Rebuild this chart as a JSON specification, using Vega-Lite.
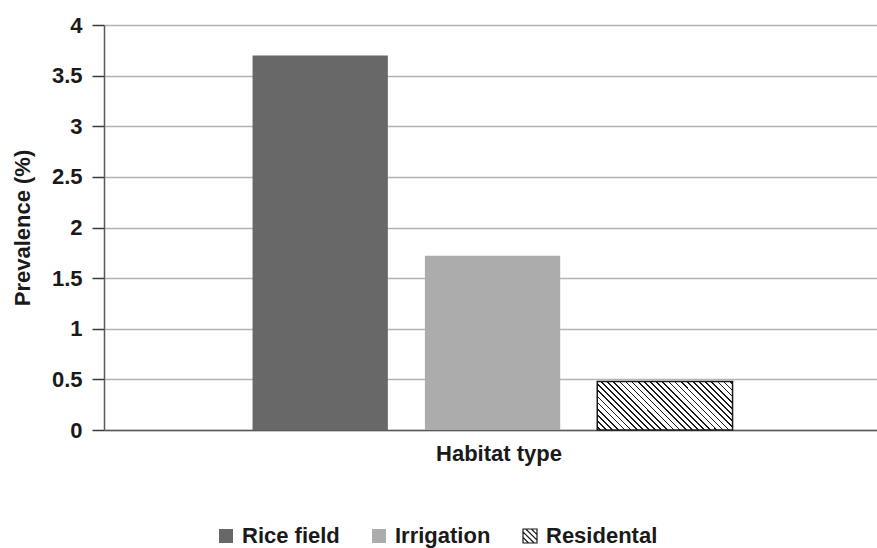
{
  "$schema": "https://vega.github.io/schema/vega-lite/v6.json",
  "width": 773,
  "height": 405,
  "autosize": {"type": "none"},
  "padding": {"left": 104, "top": 25, "right": 0, "bottom": 118},
  "background": "white",
  "config": {"view": {"stroke": null}, "font": "Liberation Sans"},
  "data": {"values": [
    {"habitat": "Rice field", "prevalence": 3.7},
    {"habitat": "Irrigation", "prevalence": 1.72},
    {"habitat": "Residental", "prevalence": 0.48}
  ]},
  "layer": [
    {
      "mark": {"type": "bar"},
      "encoding": {
        "x": {"field": "habitat", "type": "nominal", "sort": null,
          "scale": {"domain": ["Rice field", "Irrigation", "Residental"], "paddingInner": 0.215, "paddingOuter": 0.85, "align": 0.507},
          "axis": {"labels": false, "ticks": false, "grid": false, "domainColor": "#5a5a5a", "domainWidth": 1.5,
            "title": "Habitat type", "titleFont": "Liberation Sans", "titleFontSize": 22, "titleFontWeight": "bold", "titleColor": "#1a1a1a", "titlePadding": 13, "titleX": 394.5}},
        "y": {"field": "prevalence", "type": "quantitative",
          "scale": {"domain": [0, 4]},
          "axis": {"values": [0, 0.5, 1, 1.5, 2, 2.5, 3, 3.5, 4], "format": "~g",
            "tickSize": 12, "tickColor": "#3a3a3a", "tickWidth": 1.5,
            "domainColor": "#5a5a5a", "domainWidth": 1.5,
            "grid": true, "gridColor": "#b3b3b3", "gridWidth": 1.5,
            "labelFont": "Liberation Sans", "labelFontSize": 22, "labelFontWeight": "bold", "labelColor": "#1a1a1a", "labelPadding": 10,
            "title": "Prevalence (%)", "titleFont": "Liberation Sans", "titleFontSize": 22, "titleFontWeight": "bold", "titleColor": "#1a1a1a", "titlePadding": 17}},
        "color": {"field": "habitat", "type": "nominal", "sort": null,
          "scale": {"domain": ["Rice field", "Irrigation", "Residental"], "range": ["#686868", "#acacac", "#ffffff"]},
          "legend": {"orient": "none", "legendX": 111, "legendY": 500, "direction": "horizontal", "title": null,
            "symbolType": "square", "symbolSize": 196, "symbolStrokeWidth": 1.2,
            "labelFont": "Liberation Sans", "labelFontSize": 22, "labelFontWeight": "bold", "labelColor": "#1a1a1a",
            "labelOffset": 5, "columnPadding": 28, "padding": 0,
            "encode": {"symbols": {"update": {
              "shape": [
                {"test": "datum.value === 'Residental'", "value": "M-1,-1H1V1H-1Z M0.2,-1L1,-0.2 M-0.6,-1L1,0.6 M-1,-0.6L0.6,1 M-1,0.2L-0.2,1"},
                {"value": "square"}
              ],
              "stroke": [
                {"test": "datum.value === 'Residental'", "value": "#1a1a1a"},
                {"value": "transparent"}
              ]
            }}}
          }}
      }
    },
    {
      "transform": [{"filter": "datum.habitat === 'Residental'"}],
      "mark": {"type": "bar", "stroke": "#1a1a1a", "strokeWidth": 1.5,
        "fill": {"gradient": "linear", "x1": 0, "y1": 1, "x2": 1.204, "y2": 0.568, "stops": [
          {"offset": 0, "color": "#ffffff"},
          {"offset": 0.0125, "color": "#ffffff"}, {"offset": 0.0125, "color": "#1a1a1a"}, {"offset": 0.0217, "color": "#1a1a1a"}, {"offset": 0.0217, "color": "#ffffff"},
          {"offset": 0.0458, "color": "#ffffff"}, {"offset": 0.0458, "color": "#1a1a1a"}, {"offset": 0.055, "color": "#1a1a1a"}, {"offset": 0.055, "color": "#ffffff"},
          {"offset": 0.0792, "color": "#ffffff"}, {"offset": 0.0792, "color": "#1a1a1a"}, {"offset": 0.0884, "color": "#1a1a1a"}, {"offset": 0.0884, "color": "#ffffff"},
          {"offset": 0.1125, "color": "#ffffff"}, {"offset": 0.1125, "color": "#1a1a1a"}, {"offset": 0.1217, "color": "#1a1a1a"}, {"offset": 0.1217, "color": "#ffffff"},
          {"offset": 0.1458, "color": "#ffffff"}, {"offset": 0.1458, "color": "#1a1a1a"}, {"offset": 0.155, "color": "#1a1a1a"}, {"offset": 0.155, "color": "#ffffff"},
          {"offset": 0.1792, "color": "#ffffff"}, {"offset": 0.1792, "color": "#1a1a1a"}, {"offset": 0.1884, "color": "#1a1a1a"}, {"offset": 0.1884, "color": "#ffffff"},
          {"offset": 0.2125, "color": "#ffffff"}, {"offset": 0.2125, "color": "#1a1a1a"}, {"offset": 0.2217, "color": "#1a1a1a"}, {"offset": 0.2217, "color": "#ffffff"},
          {"offset": 0.2458, "color": "#ffffff"}, {"offset": 0.2458, "color": "#1a1a1a"}, {"offset": 0.255, "color": "#1a1a1a"}, {"offset": 0.255, "color": "#ffffff"},
          {"offset": 0.2792, "color": "#ffffff"}, {"offset": 0.2792, "color": "#1a1a1a"}, {"offset": 0.2884, "color": "#1a1a1a"}, {"offset": 0.2884, "color": "#ffffff"},
          {"offset": 0.3125, "color": "#ffffff"}, {"offset": 0.3125, "color": "#1a1a1a"}, {"offset": 0.3217, "color": "#1a1a1a"}, {"offset": 0.3217, "color": "#ffffff"},
          {"offset": 0.3458, "color": "#ffffff"}, {"offset": 0.3458, "color": "#1a1a1a"}, {"offset": 0.355, "color": "#1a1a1a"}, {"offset": 0.355, "color": "#ffffff"},
          {"offset": 0.3792, "color": "#ffffff"}, {"offset": 0.3792, "color": "#1a1a1a"}, {"offset": 0.3884, "color": "#1a1a1a"}, {"offset": 0.3884, "color": "#ffffff"},
          {"offset": 0.4125, "color": "#ffffff"}, {"offset": 0.4125, "color": "#1a1a1a"}, {"offset": 0.4217, "color": "#1a1a1a"}, {"offset": 0.4217, "color": "#ffffff"},
          {"offset": 0.4458, "color": "#ffffff"}, {"offset": 0.4458, "color": "#1a1a1a"}, {"offset": 0.455, "color": "#1a1a1a"}, {"offset": 0.455, "color": "#ffffff"},
          {"offset": 0.4792, "color": "#ffffff"}, {"offset": 0.4792, "color": "#1a1a1a"}, {"offset": 0.4884, "color": "#1a1a1a"}, {"offset": 0.4884, "color": "#ffffff"},
          {"offset": 0.5125, "color": "#ffffff"}, {"offset": 0.5125, "color": "#1a1a1a"}, {"offset": 0.5217, "color": "#1a1a1a"}, {"offset": 0.5217, "color": "#ffffff"},
          {"offset": 0.5458, "color": "#ffffff"}, {"offset": 0.5458, "color": "#1a1a1a"}, {"offset": 0.555, "color": "#1a1a1a"}, {"offset": 0.555, "color": "#ffffff"},
          {"offset": 0.5792, "color": "#ffffff"}, {"offset": 0.5792, "color": "#1a1a1a"}, {"offset": 0.5884, "color": "#1a1a1a"}, {"offset": 0.5884, "color": "#ffffff"},
          {"offset": 0.6125, "color": "#ffffff"}, {"offset": 0.6125, "color": "#1a1a1a"}, {"offset": 0.6217, "color": "#1a1a1a"}, {"offset": 0.6217, "color": "#ffffff"},
          {"offset": 0.6458, "color": "#ffffff"}, {"offset": 0.6458, "color": "#1a1a1a"}, {"offset": 0.655, "color": "#1a1a1a"}, {"offset": 0.655, "color": "#ffffff"},
          {"offset": 0.6792, "color": "#ffffff"}, {"offset": 0.6792, "color": "#1a1a1a"}, {"offset": 0.6884, "color": "#1a1a1a"}, {"offset": 0.6884, "color": "#ffffff"},
          {"offset": 0.7125, "color": "#ffffff"}, {"offset": 0.7125, "color": "#1a1a1a"}, {"offset": 0.7217, "color": "#1a1a1a"}, {"offset": 0.7217, "color": "#ffffff"},
          {"offset": 0.7458, "color": "#ffffff"}, {"offset": 0.7458, "color": "#1a1a1a"}, {"offset": 0.755, "color": "#1a1a1a"}, {"offset": 0.755, "color": "#ffffff"},
          {"offset": 0.7792, "color": "#ffffff"}, {"offset": 0.7792, "color": "#1a1a1a"}, {"offset": 0.7884, "color": "#1a1a1a"}, {"offset": 0.7884, "color": "#ffffff"},
          {"offset": 0.8125, "color": "#ffffff"}, {"offset": 0.8125, "color": "#1a1a1a"}, {"offset": 0.8217, "color": "#1a1a1a"}, {"offset": 0.8217, "color": "#ffffff"},
          {"offset": 0.8458, "color": "#ffffff"}, {"offset": 0.8458, "color": "#1a1a1a"}, {"offset": 0.855, "color": "#1a1a1a"}, {"offset": 0.855, "color": "#ffffff"},
          {"offset": 0.8792, "color": "#ffffff"}, {"offset": 0.8792, "color": "#1a1a1a"}, {"offset": 0.8884, "color": "#1a1a1a"}, {"offset": 0.8884, "color": "#ffffff"},
          {"offset": 0.9125, "color": "#ffffff"}, {"offset": 0.9125, "color": "#1a1a1a"}, {"offset": 0.9217, "color": "#1a1a1a"}, {"offset": 0.9217, "color": "#ffffff"},
          {"offset": 0.9458, "color": "#ffffff"}, {"offset": 0.9458, "color": "#1a1a1a"}, {"offset": 0.955, "color": "#1a1a1a"}, {"offset": 0.955, "color": "#ffffff"},
          {"offset": 0.9792, "color": "#ffffff"}, {"offset": 0.9792, "color": "#1a1a1a"}, {"offset": 0.9884, "color": "#1a1a1a"}, {"offset": 0.9884, "color": "#ffffff"},
          {"offset": 1, "color": "#ffffff"}]}},
      "encoding": {
        "x": {"field": "habitat", "type": "nominal", "sort": null},
        "y": {"field": "prevalence", "type": "quantitative"}
      }
    }
  ]
}
